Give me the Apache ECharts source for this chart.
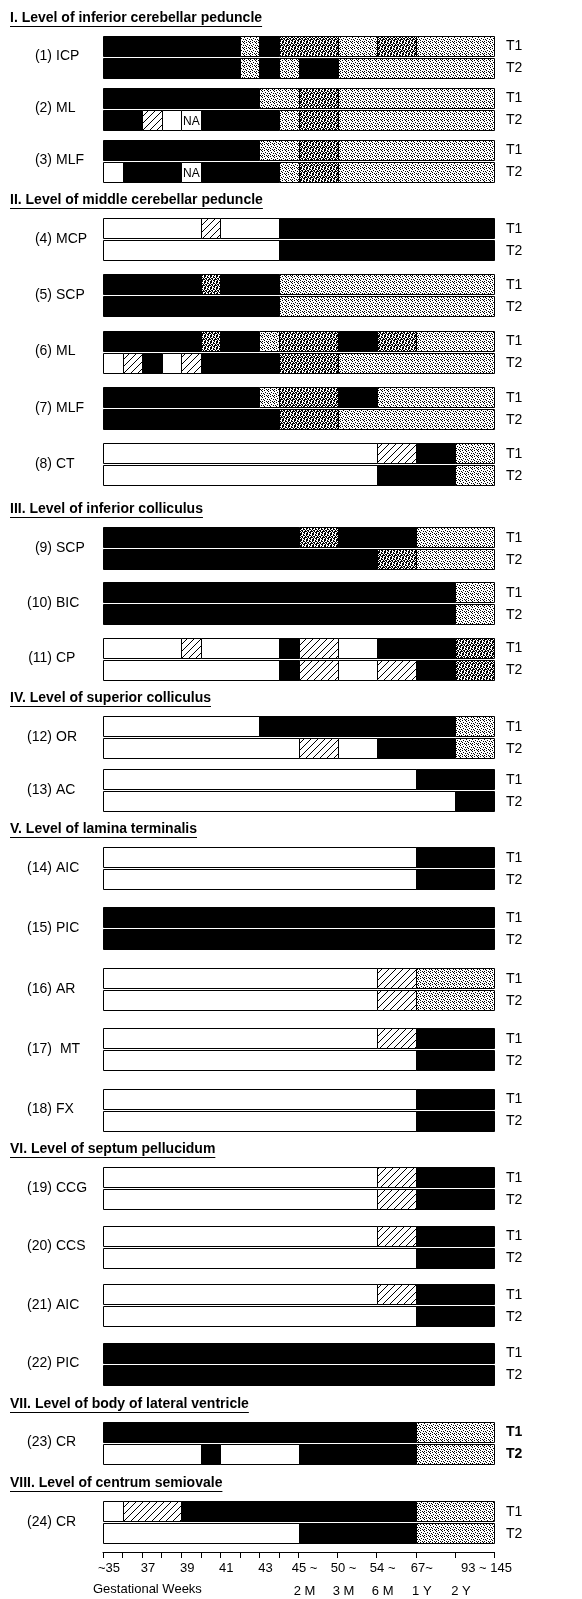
<!DOCTYPE html>
<html><head><meta charset="utf-8">
<script src="https://cdn.jsdelivr.net/npm/echarts@6/dist/echarts.min.js"></script>
<style>html,body{margin:0;padding:0;background:#fff}#c{width:582px;height:1599px}</style>
</head><body><div id="c"></div>
<script>
// ---------------- DATA ----------------
const sectionTitles = [
  'I. Level of inferior cerebellar peduncle',
  'II. Level of middle cerebellar peduncle',
  'III. Level of inferior colliculus',
  'IV. Level of superior colliculus',
  'V. Level of lamina terminalis',
  'VI. Level of septum pellucidum',
  'VII. Level of body of lateral ventricle',
  'VIII. Level of centrum semiovale'
];
const rowNumbers = ['(1)','(2)','(3)','(4)','(5)','(6)','(7)','(8)','(9)','(10)','(11)','(12)',
  '(13)','(14)','(15)','(16)','(17)','(18)','(19)','(20)','(21)','(22)','(23)','(24)'];
const rowNames = ['ICP','ML','MLF','MCP','SCP','ML','MLF','CT','SCP','BIC','CP','OR',
  'AC','AIC','PIC','AR',' MT','FX','CCG','CCS','AIC','PIC','CR','CR'];
const rowSection = [0,0,0,1,1,1,1,1,2,2,2,3,3,4,4,4,4,4,5,5,5,5,6,7];
const boldT = [22]; // row index whose T1/T2 labels are bold

// x axis: index units (10 single weeks, then 5 two-unit bins)
const tickValues = [0,1,2,3,4,5,6,7,8,9,10,12,14,16,18,20];
const labelValues = [0,2,4,6,8,10,12,14,16,19];
const weekLabels = ['~35','37','39','41','43','45 ~','50 ~','54 ~','67~','93 ~ 145'];
const ageLabels  = ['','','','','','2 M','3 M','6 M','1 Y','2 Y'];

// segment types: B black, W white, H hatched, L light dots, D dense dots, N not available
const t1Bars = [
  [[0,7,'B'],[7,8,'L'],[8,9,'B'],[9,12,'D'],[12,14,'L'],[14,16,'D'],[16,20,'L']],
  [[0,8,'B'],[8,10,'L'],[10,12,'D'],[12,20,'L']],
  [[0,8,'B'],[8,10,'L'],[10,12,'D'],[12,20,'L']],
  [[0,5,'W'],[5,6,'H'],[6,9,'W'],[9,20,'B']],
  [[0,5,'B'],[5,6,'D'],[6,9,'B'],[9,20,'L']],
  [[0,5,'B'],[5,6,'D'],[6,8,'B'],[8,9,'L'],[9,12,'D'],[12,14,'B'],[14,16,'D'],[16,20,'L']],
  [[0,8,'B'],[8,9,'L'],[9,12,'D'],[12,14,'B'],[14,20,'L']],
  [[0,14,'W'],[14,16,'H'],[16,18,'B'],[18,20,'L']],
  [[0,10,'B'],[10,12,'D'],[12,16,'B'],[16,20,'L']],
  [[0,18,'B'],[18,20,'L']],
  [[0,4,'W'],[4,5,'H'],[5,9,'W'],[9,10,'B'],[10,12,'H'],[12,14,'W'],[14,18,'B'],[18,20,'D']],
  [[0,8,'W'],[8,18,'B'],[18,20,'L']],
  [[0,16,'W'],[16,20,'B']],
  [[0,16,'W'],[16,20,'B']],
  [[0,20,'B']],
  [[0,14,'W'],[14,16,'H'],[16,20,'L']],
  [[0,14,'W'],[14,16,'H'],[16,20,'B']],
  [[0,16,'W'],[16,20,'B']],
  [[0,14,'W'],[14,16,'H'],[16,20,'B']],
  [[0,14,'W'],[14,16,'H'],[16,20,'B']],
  [[0,14,'W'],[14,16,'H'],[16,20,'B']],
  [[0,20,'B']],
  [[0,16,'B'],[16,20,'L']],
  [[0,1,'W'],[1,4,'H'],[4,16,'B'],[16,20,'L']]
];
const t2Bars = [
  [[0,7,'B'],[7,8,'L'],[8,9,'B'],[9,10,'L'],[10,12,'B'],[12,20,'L']],
  [[0,2,'B'],[2,3,'H'],[3,4,'W'],[4,5,'N'],[5,9,'B'],[9,10,'L'],[10,12,'D'],[12,20,'L']],
  [[0,1,'W'],[1,4,'B'],[4,5,'N'],[5,9,'B'],[9,10,'L'],[10,12,'D'],[12,20,'L']],
  [[0,9,'W'],[9,20,'B']],
  [[0,9,'B'],[9,20,'L']],
  [[0,1,'W'],[1,2,'H'],[2,3,'B'],[3,4,'W'],[4,5,'H'],[5,9,'B'],[9,12,'D'],[12,20,'L']],
  [[0,9,'B'],[9,12,'D'],[12,20,'L']],
  [[0,14,'W'],[14,18,'B'],[18,20,'L']],
  [[0,14,'B'],[14,16,'D'],[16,20,'L']],
  [[0,18,'B'],[18,20,'L']],
  [[0,9,'W'],[9,10,'B'],[10,12,'H'],[12,14,'W'],[14,16,'H'],[16,18,'B'],[18,20,'D']],
  [[0,10,'W'],[10,12,'H'],[12,14,'W'],[14,18,'B'],[18,20,'L']],
  [[0,18,'W'],[18,20,'B']],
  [[0,16,'W'],[16,20,'B']],
  [[0,20,'B']],
  [[0,14,'W'],[14,16,'H'],[16,20,'L']],
  [[0,16,'W'],[16,20,'B']],
  [[0,16,'W'],[16,20,'B']],
  [[0,14,'W'],[14,16,'H'],[16,20,'B']],
  [[0,16,'W'],[16,20,'B']],
  [[0,16,'W'],[16,20,'B']],
  [[0,20,'B']],
  [[0,5,'W'],[5,6,'B'],[6,10,'W'],[10,16,'B'],[16,20,'L']],
  [[0,10,'W'],[10,16,'B'],[16,20,'L']]
];

// ---------------- LAYOUT ----------------
const FONT = "'Liberation Sans', Arial, Helvetica, sans-serif";
const sectionTopY = [45.5, 228, 537, 726, 857, 1177, 1431.5, 1511]; // first T1 centre (axis units = px)
const sectionPitch = [52, 56.25, 55.25, 53, 60.4, 58.5, 0, 0];
const T_GAP = 22, BAR_H = 20, TITLE_OFF = 28;
function rowY(r) {
  const s = rowSection[r];
  let k = 0; for (let i = 0; i < r; i++) if (rowSection[i] === s) k++;
  return sectionTopY[s] + k * sectionPitch[s];
}

// ---------------- PATTERNS ----------------
function maskPattern(rows) {
  const h = rows.length, w = rows[0].length;
  const c = document.createElement('canvas'); c.width = w; c.height = h;
  const ctx = c.getContext('2d');
  ctx.fillStyle = '#fff'; ctx.fillRect(0, 0, w, h);
  ctx.fillStyle = '#000';
  for (let y = 0; y < h; y++) for (let x = 0; x < w; x++) if (rows[y][x] === '#') ctx.fillRect(x, y, 1, 1);
  return { image: c, repeat: 'repeat' };
}
const fills = {
  B: '#000', W: '#fff', N: '#fff',
  H: maskPattern(['......#','.....#.','....#..','...#...','..#....','.#.....','#......']),
  L: maskPattern(['#..#..','....#.','.#....','...#.#','#.....','..#.#.']),
  D: maskPattern(['##.#..','#..##.','.##..#','#.#.##','.#.##.','##..#.'])
};
const typeKeys = ['B','W','H','L','D','N'];

const barData = [];
[t1Bars, t2Bars].forEach((set, t) => set.forEach((segs, r) => segs.forEach(sg => {
  barData.push([sg[0], sg[1], r, t, typeKeys.indexOf(sg[2])]);
})));

const measureCtx = document.createElement('canvas').getContext('2d');

const chart = echarts.init(document.getElementById('c'), null, { renderer: 'canvas' });
chart.setOption({
  animation: false,
  backgroundColor: '#fff',
  grid: { left: 103, right: 88, top: 0, bottom: 47 },
  xAxis: {
    type: 'value', min: 0, max: 20, position: 'bottom',
    axisLine: { onZero: false, lineStyle: { color: '#000', width: 1 } },
    axisTick: { customValues: tickValues, length: 6, lineStyle: { color: '#000', width: 1 } },
    splitLine: { show: false },
    axisLabel: {
      customValues: labelValues,
      color: '#000', fontFamily: FONT, fontSize: 13, margin: 8,
      padding: [0, 0, 0, 12],
      formatter: v => {
        const i = labelValues.indexOf(v);
        const last = i === labelValues.length - 1;
        const a = (last ? '{e|' : '{a|') + weekLabels[i] + '}';
        if (!ageLabels[i]) return a;
        return a + '\n' + (last ? '{c|' : '{b|') + ageLabels[i] + '}';
      },
      rich: {
        a: { fontSize: 13, fontFamily: FONT, color: '#000', lineHeight: 16 },
        e: { fontSize: 13, fontFamily: FONT, color: '#000', lineHeight: 16, padding: [0, 0, 0, 12] },
        b: { fontSize: 13, fontFamily: FONT, color: '#000', lineHeight: 30 },
        c: { fontSize: 13, fontFamily: FONT, color: '#000', lineHeight: 30, padding: [0, 39, 0, 0] }
      }
    }
  },
  yAxis: { type: 'value', inverse: true, min: 0, max: 1552, show: false },
  graphic: [{
    type: 'text', left: 93, top: 1583,
    style: { text: 'Gestational Weeks', font: '13px ' + FONT, fill: '#000' }
  }],
  series: [
    {
      type: 'custom', coordinateSystem: 'cartesian2d', clip: false, silent: true,
      data: barData, encode: { x: [0, 1] },
      renderItem: (params, api) => {
        const x0 = api.value(0), x1 = api.value(1), r = api.value(2), t = api.value(3), k = typeKeys[api.value(4)];
        const yc = rowY(r) + t * T_GAP;
        const p0 = api.coord([x0, yc]), p1 = api.coord([x1, yc]);
        const left = Math.round(p0[0]) + 0.5, right = Math.round(p1[0]) + 0.5;
        const top = Math.round(p0[1] - BAR_H / 2) + 0.5;
        const children = [{
          type: 'rect', shape: { x: left, y: top, width: right - left, height: BAR_H },
          style: { fill: fills[k], stroke: '#000', lineWidth: 1 }
        }];
        if (k === 'N') children.push({
          type: 'text', style: { text: 'NA', x: left + 1.5, y: top + BAR_H / 2 + 1, verticalAlign: 'middle',
            font: '12px ' + FONT, fill: '#000' }
        });
        return { type: 'group', children };
      }
    },
    {
      type: 'custom', coordinateSystem: 'cartesian2d', clip: false, silent: true,
      data: rowNames.map((n, i) => [0, i]), encode: { x: 0 },
      renderItem: (params, api) => {
        const r = api.value(1);
        const y1 = rowY(r), y2 = y1 + T_GAP;
        const pL = api.coord([0, (y1 + y2) / 2]);
        const pR1 = api.coord([20, y1]), pR2 = api.coord([20, y2]);
        const bold = boldT.indexOf(r) >= 0 ? 'bold ' : '';
        return { type: 'group', children: [
          { type: 'text', style: { text: rowNumbers[r], x: pL[0] - 51, y: pL[1], align: 'right', verticalAlign: 'middle', font: '14px ' + FONT, fill: '#000' } },
          { type: 'text', style: { text: rowNames[r], x: pL[0] - 47, y: pL[1], align: 'left', verticalAlign: 'middle', font: '14px ' + FONT, fill: '#000' } },
          { type: 'text', style: { text: 'T1', x: pR1[0] + 12, y: pR1[1] + 1, align: 'left', verticalAlign: 'middle', font: bold + '14px ' + FONT, fill: '#000' } },
          { type: 'text', style: { text: 'T2', x: pR2[0] + 12, y: pR2[1] + 1, align: 'left', verticalAlign: 'middle', font: bold + '14px ' + FONT, fill: '#000' } }
        ]};
      }
    },
    {
      type: 'custom', coordinateSystem: 'cartesian2d', clip: false, silent: true,
      data: sectionTitles.map((t, i) => [0, i]), encode: { x: 0 },
      renderItem: (params, api) => {
        const s = api.value(1);
        const p = api.coord([0, sectionTopY[s] - TITLE_OFF]);
        const font = 'bold 14px ' + FONT;
        measureCtx.font = font;
        const w = measureCtx.measureText(sectionTitles[s]).width;
        const x = 10, y = Math.round(p[1]);
        return { type: 'group', children: [
          { type: 'text', style: { text: sectionTitles[s], x: x, y: y, align: 'left', verticalAlign: 'middle', font: font, fill: '#000' } },
          { type: 'line', shape: { x1: x, y1: y + 8.5, x2: x + w, y2: y + 8.5 }, style: { stroke: '#000', lineWidth: 1 } }
        ]};
      }
    }
  ]
});
</script></body></html>
